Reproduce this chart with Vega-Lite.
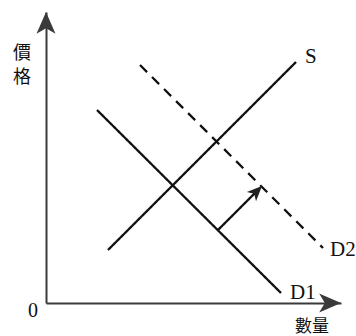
{
  "$schema": "https://vega.github.io/schema/vega-lite/v6.json",
  "autosize": "none",
  "width": 295,
  "height": 291,
  "padding": {"left": 46, "top": 12, "right": 15, "bottom": 33},
  "background": "white",
  "config": {"view": {"stroke": null}},
  "encoding": {
    "x": {"field": "x", "type": "quantitative", "scale": {"domain": [0, 295], "nice": false, "zero": false},
      "axis": {"domain": true, "domainColor": "#3a3a3a", "domainWidth": 2, "ticks": false, "labels": false, "grid": false, "title": null}},
    "y": {"field": "y", "type": "quantitative", "scale": {"domain": [0, 291], "nice": false, "zero": false},
      "axis": {"domain": true, "domainColor": "#3a3a3a", "domainWidth": 2, "ticks": false, "labels": false, "grid": false, "title": null}}
  },
  "layer": [
    {
      "data": {"values": [
        {"series": "S", "x": 62, "y": 53}, {"series": "S", "x": 250, "y": 241},
        {"series": "D1", "x": 51, "y": 193}, {"series": "D1", "x": 235, "y": 10},
        {"series": "D2", "x": 94, "y": 238}, {"series": "D2", "x": 277, "y": 55},
        {"series": "shift", "x": 172, "y": 73}, {"series": "shift", "x": 213, "y": 114}
      ]},
      "mark": {"type": "line", "color": "#111", "strokeWidth": 2.3},
      "encoding": {
        "detail": {"field": "series"},
        "strokeDash": {"field": "series", "scale": {"domain": ["S", "D1", "D2", "shift"], "range": [[1, 0], [1, 0], [10, 7], [1, 0]]}, "legend": null}
      }
    },
    {
      "data": {"values": [{"x": 0, "y": 291}]},
      "mark": {"type": "point", "shape": "M0,0L-1,2.3L0,1.7L1,2.3Z", "size": 361, "filled": true, "color": "#3a3a3a", "opacity": 1, "strokeWidth": 0}
    },
    {
      "data": {"values": [{"x": 295, "y": 0}]},
      "mark": {"type": "point", "shape": "M0,0L-1,2.3L0,1.7L1,2.3Z", "size": 361, "angle": 90, "filled": true, "color": "#3a3a3a", "opacity": 1, "strokeWidth": 0}
    },
    {
      "data": {"values": [{"x": 216, "y": 117}]},
      "mark": {"type": "point", "shape": "M0,0L-1,2.3L0,1.7L1,2.3Z", "size": 169, "angle": 45, "filled": true, "color": "#222", "opacity": 1, "strokeWidth": 0}
    },
    {
      "data": {"values": [
        {"x": 259, "y": 246, "label": "S"},
        {"x": 244, "y": 10, "label": "D1"},
        {"x": 284, "y": 53, "label": "D2"}
      ]},
      "mark": {"type": "text", "align": "left", "baseline": "middle", "font": "Liberation Serif", "fontSize": 21, "color": "#111"},
      "encoding": {"text": {"field": "label"}}
    },
    {
      "data": {"values": [{"x": -13, "y": -8, "label": "0"}]},
      "mark": {"type": "text", "align": "center", "baseline": "middle", "font": "Liberation Serif", "fontSize": 20, "color": "#111"},
      "encoding": {"text": {"field": "label"}}
    },
    {
      "data": {"values": [{"x": -24, "y": 249, "label": "價\n格"}]},
      "mark": {"type": "text", "align": "center", "baseline": "middle", "lineBreak": "\n", "lineHeight": 24, "font": "Noto Sans CJK TC", "fontSize": 18, "color": "#111"},
      "encoding": {"text": {"field": "label"}}
    },
    {
      "data": {"values": [{"x": 266, "y": -24, "label": "數量"}]},
      "mark": {"type": "text", "align": "center", "baseline": "middle", "font": "Noto Sans CJK TC", "fontSize": 17, "color": "#111"},
      "encoding": {"text": {"field": "label"}}
    }
  ]
}
